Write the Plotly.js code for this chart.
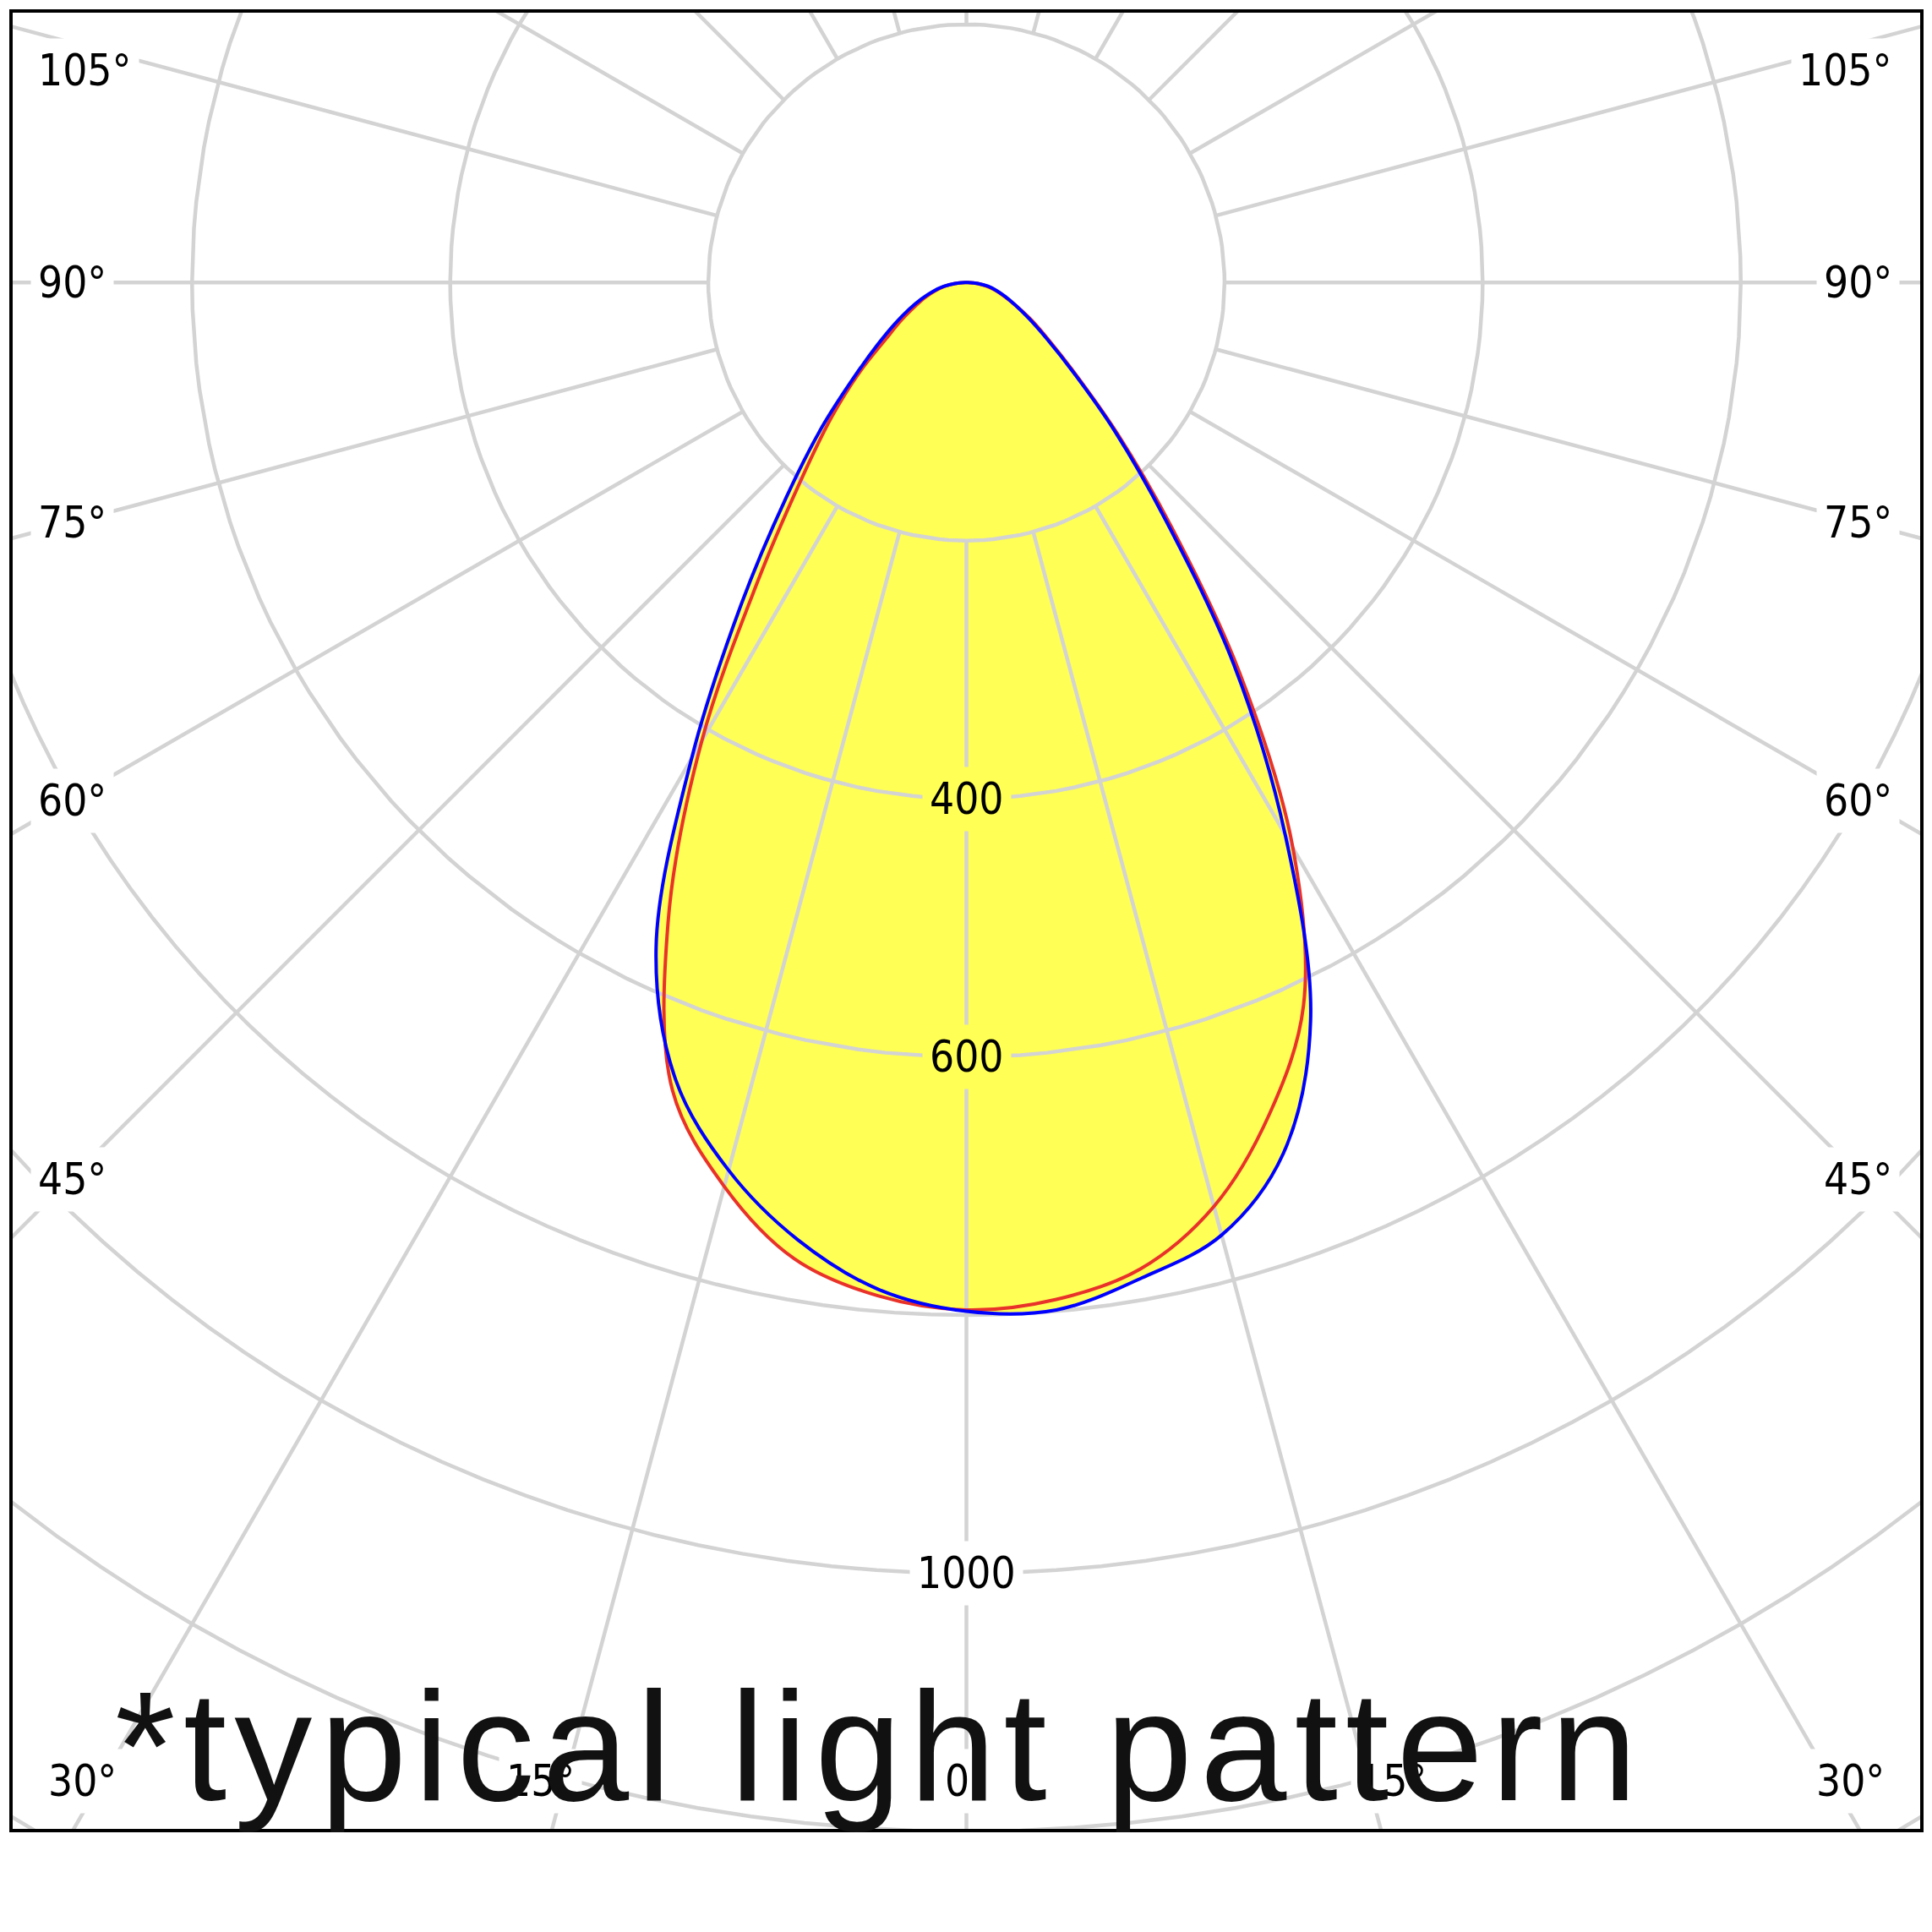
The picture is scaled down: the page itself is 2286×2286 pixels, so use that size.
<!DOCTYPE html>
<html>
<head>
<meta charset="utf-8">
<script src="https://cdn.plot.ly/plotly-3.0.1.min.js"></script>
<style>html,body{margin:0;padding:0;background:#ffffff;}</style>
</head>
<body>
<div id="chart" style="width:2286px;height:2286px;"></div>
<script>
// ---- Data (luminous intensity, cd/klm) ----
const angles    = [0, 5, 10, 15, 20, 25, 30, 35, 40, 45, 50, 55, 60, 65, 70, 75, 80, 85, 90];
// C0-C180 plane (red): left half = C180, right half = C0
const redLeft   = [796, 788, 768, 725, 666, 547, 410, 281, 199, 148, 108, 76, 58, 44, 34, 25, 17, 9, 1];
const redRight  = [796, 791, 776, 741, 686, 618, 506, 369, 247, 165, 110, 78, 58, 42, 31, 23, 15, 8, 1];
// C90-C270 plane (blue): left half = C270, right half = C90
const blueLeft  = [797, 783, 753, 712, 658, 569, 426, 304, 217, 158, 113, 84, 64, 49, 37, 27, 18, 9, 1];
const blueRight = [797, 799, 783, 764, 718, 631, 494, 361, 240, 162, 108, 76, 56, 42, 32, 24, 17, 9, 1];

// ---- Polar grid / tick definitions ----
const gridRadii        = [200, 400, 600, 800, 1000, 1200, 1400];
const gridAngles       = [0, 15, 30, 45, 60, 75, 90, 105, 120, 135, 150, 165, 180, 195, 210, 225, 240, 255, 270, 285, 300, 315, 330, 345];
const radialTickLabels = [400, 600, 1000];
const angleTickLabels  = [0, 15, 30, 45, 60, 75, 90, 105];
const captionText      = '*typical light pattern';

// ---- Styling ----
const YELLOW = '#FFFF55';
const RED = '#E8322A';
const BLUE = '#0000FF';
const GRID = '#D3D3D3';
const LABEL_FONT = {family: 'DejaVu Sans Condensed, Noto Sans, DejaVu Sans, sans-serif', size: 51, color: '#000000'};
const PAD = 8;

const rad = d => d * Math.PI / 180;

// polar (angle from nadir, intensity) -> plane position
function outline(left, right) {
  const xs = [], ys = [];
  for (let i = angles.length - 1; i >= 0; i--) {
    xs.push(-left[i] * Math.sin(rad(angles[i])));
    ys.push(-left[i] * Math.cos(rad(angles[i])));
  }
  for (let i = 1; i < angles.length; i++) {
    xs.push(right[i] * Math.sin(rad(angles[i])));
    ys.push(-right[i] * Math.cos(rad(angles[i])));
  }
  xs.push(xs[0]); ys.push(ys[0]);
  return {x: xs, y: ys};
}

const redOut = outline(redLeft, redRight);
const blueOut = outline(blueLeft, blueRight);

// grid circles
const gcx = [], gcy = [];
gridRadii.forEach(r => {
  for (let a = 0; a <= 360; a += 2) {
    gcx.push(r * Math.sin(rad(a)));
    gcy.push(-r * Math.cos(rad(a)));
  }
  gcx.push(null); gcy.push(null);
});
// radial spokes (start at the first grid circle)
const spx = [], spy = [];
const rIn = gridRadii[0], rOut = 3000;
gridAngles.forEach(a => {
  spx.push(rIn * Math.sin(rad(a)), rOut * Math.sin(rad(a)), null);
  spy.push(-rIn * Math.cos(rad(a)), -rOut * Math.cos(rad(a)), null);
});

const traces = [
  {x: redOut.x, y: redOut.y, mode: 'lines', fill: 'toself', fillcolor: YELLOW,
   line: {width: 0, shape: 'spline', smoothing: 1, color: YELLOW}, hoverinfo: 'skip', showlegend: false},
  {x: blueOut.x, y: blueOut.y, mode: 'lines', fill: 'toself', fillcolor: YELLOW,
   line: {width: 0, shape: 'spline', smoothing: 1, color: YELLOW}, hoverinfo: 'skip', showlegend: false},
  {x: gcx, y: gcy, mode: 'lines', line: {color: GRID, width: 4.5}, hoverinfo: 'skip', showlegend: false},
  {x: spx, y: spy, mode: 'lines', line: {color: GRID, width: 4.5}, hoverinfo: 'skip', showlegend: false},
  {x: redOut.x, y: redOut.y, mode: 'lines', name: 'C0-C180',
   line: {color: RED, width: 4, shape: 'spline', smoothing: 1}, showlegend: false},
  {x: blueOut.x, y: blueOut.y, mode: 'lines', name: 'C90-C270',
   line: {color: BLUE, width: 4, shape: 'spline', smoothing: 1}, showlegend: false}
];

// ---- Annotations ----
const annotations = [];
// radial value labels along the nadir line
radialTickLabels.forEach(r => {
  const inside = r < Math.min(redLeft[0], blueLeft[0]);
  annotations.push({
    x: 0, y: -r, xref: 'x', yref: 'y', text: String(r), showarrow: false,
    xanchor: 'center', yanchor: 'middle', font: LABEL_FONT,
    bgcolor: inside ? YELLOW : '#FFFFFF', borderpad: PAD
  });
});
// angle labels placed along the frame
const SIDE_X = 695, SIDE_EDGE_L = -725, SIDE_EDGE_R = 723, TOP_Y = 164, BOTTOM_Y = -1161, BOTTOM_RAY_Y = -1148, BOTTOM_SHIFT = -10;
angleTickLabels.forEach(t => {
  const sides = t === 0 ? [0] : [-1, 1];
  sides.forEach(side => {
    const s = Math.sin(rad(t)), c = Math.cos(rad(t));
    let x, y, xanchor;
    if (t === 0) {
      x = 0; y = BOTTOM_Y; xanchor = 'center';
    } else {
      const yRay = -c / s * SIDE_X;
      if (yRay >= BOTTOM_Y) {
        x = side < 0 ? SIDE_EDGE_L : SIDE_EDGE_R;
        y = Math.min(yRay, TOP_Y);
        xanchor = side < 0 ? 'left' : 'right';
      } else {
        x = side * ((-BOTTOM_RAY_Y) * s / c + BOTTOM_SHIFT);
        y = BOTTOM_Y;
        xanchor = side < 0 ? 'right' : 'left';
      }
    }
    annotations.push({
      x: x, y: y, xref: 'x', yref: 'y', text: t + '°', showarrow: false,
      xanchor: xanchor, yanchor: 'middle', font: LABEL_FONT,
      bgcolor: '#FFFFFF', borderpad: PAD
    });
  });
});
// caption
annotations.push({
  x: -661, y: -1134, xref: 'x', yref: 'y',
  text: '<span style="letter-spacing:9.3px">' + captionText + '</span>',
  showarrow: false, xanchor: 'left', yanchor: 'middle',
  font: {family: 'Liberation Sans, Arial, Helvetica, sans-serif', size: 184, color: '#111111'}
});

const axisCommon = {
  showgrid: false, zeroline: false, showticklabels: false, ticks: '',
  showline: true, mirror: true, linecolor: '#000000', linewidth: 4, fixedrange: true
};

const layout = {
  width: 2286, height: 2286,
  margin: {l: 15, r: 14, t: 15, b: 122, pad: 0},
  paper_bgcolor: '#FFFFFF', plot_bgcolor: '#FFFFFF',
  xaxis: Object.assign({range: [-739, 739]}, axisCommon),
  yaxis: Object.assign({range: [-1198, 209]}, axisCommon),
  annotations: annotations,
  showlegend: false
};

Plotly.newPlot('chart', traces, layout, {displayModeBar: false, responsive: false, staticPlot: true});
</script>
</body>
</html>
